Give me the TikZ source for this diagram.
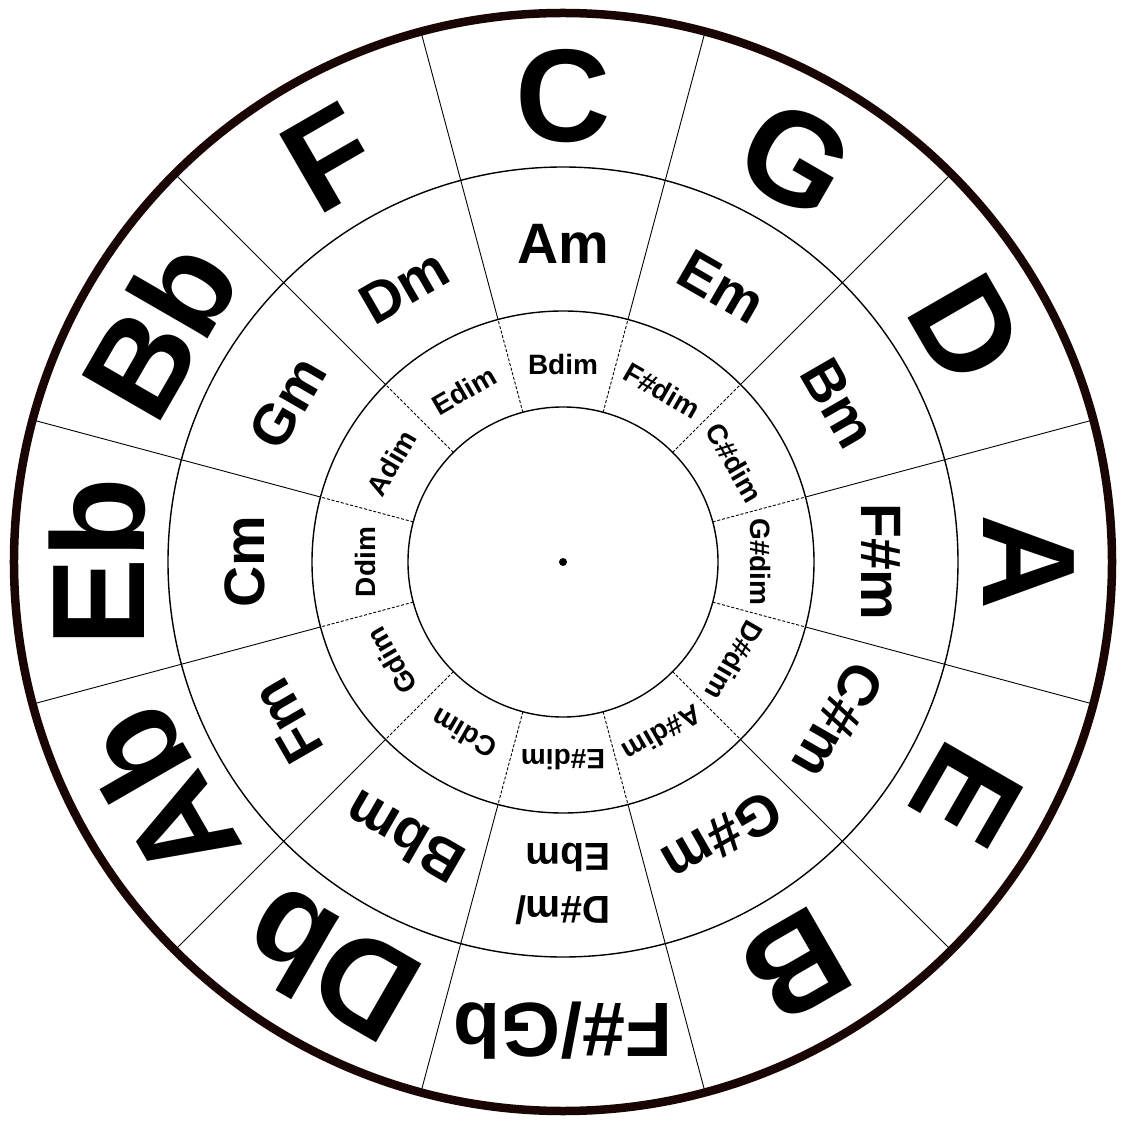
\documentclass[tikz,border=0pt]{standalone}
\usepackage{fontspec}
\setmainfont{Liberation Sans}
\usepackage{xcolor}
\definecolor{rimBrown}{HTML}{1A0505}

\begin{document}
\begin{tikzpicture}[x=1pt, y=1pt,
    ringline/.style={line width=1.4pt, black},
    spoke/.style={line width=0.9pt, black},
    dimspoke/.style={line width=0.9pt, black, dash pattern=on 3pt off 1.8pt},
    majorkey/.style={font=\fontsize{132}{132}\selectfont\bfseries, inner sep=0pt},
    minorkey/.style={font=\fontsize{57}{57}\selectfont\bfseries, inner sep=0pt},
    dimkey/.style={font=\fontsize{28}{28}\selectfont\bfseries, inner sep=0pt}]
  \fill[white] (-563,-562) rectangle (566,562);
  \useasboundingbox (-563,-562) rectangle (566,562);
  % rings
  \draw[ringline] (0,0) circle (155pt);
  \draw[ringline] (0,0) circle (251pt);
  \draw[ringline] (0,0) circle (395pt);
  % spokes between the twelve keys
  \foreach \a in {15,45,...,345} {
    \draw[dimspoke] (\a:155) -- (\a:251);
    \draw[spoke] (\a:251) -- (\a:549);
  }
  % outer rim and centre dot
  \draw[rimBrown, line width=8.5pt] (0,0) circle (549pt);
  \fill (0,0) circle (4pt);
  % major keys
  \foreach \nm/\ang in {C/90, G/60, D/30, A/0, E/-30, B/-60, Db/-120, Ab/-150, Eb/180, Bb/150, F/120}
    \node[majorkey, rotate=\ang-90] (maj\nm) at (\ang:466) {\nm};
  \node[majorkey, font=\fontsize{77}{77}\selectfont\bfseries, rotate=180] (majFsGb) at (-90:469) {F\#/Gb};
  % relative minors
  \foreach \nm/\txt/\ang in {Am/Am/90, Em/Em/60, Bm/Bm/30, Fsm/F\#m/0, Csm/C\#m/-30, Gsm/G\#m/-60,
      Bbm/Bbm/-120, Fm/Fm/-150, Cm/Cm/180, Gm/Gm/150, Dm/Dm/120}
    \node[minorkey, rotate=\ang-90] (min\nm) at (\ang:318) {\txt};
  \node[minorkey, font=\fontsize{39}{53}\selectfont\bfseries, align=left, rotate=180] (minDsEb) at (-90:322) {D\#m/\\Ebm};
  % diminished chords
  \foreach \nm/\txt/\ang in {B/B/90, Fs/F\#/60, Cs/C\#/30, Gs/G\#/0, Ds/D\#/-30, As/A\#/-60,
      Es/E\#/-90, C/C/-120, G/G/-150, D/D/180, A/A/150, E/E/120}
    \node[dimkey, rotate=\ang-90] (dim\nm) at (\ang:198) {\txt dim};
\end{tikzpicture}
\end{document}
